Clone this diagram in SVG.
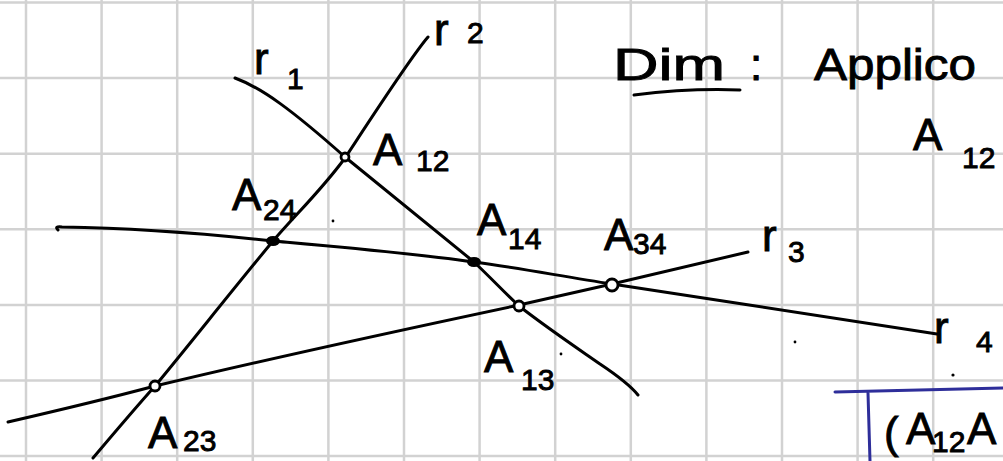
<svg xmlns="http://www.w3.org/2000/svg" width="1003" height="461" viewBox="0 0 1003 461">
<style>
.grid line{stroke:#d2d2d2;stroke-width:2.5}
.ln{fill:none;stroke:#000;stroke-width:3;stroke-linecap:round;stroke-linejoin:round}
.pt{fill:#fff;stroke:#000;stroke-width:2.8}
.ptf{fill:#000;stroke:#000;stroke-width:2}
.t{font-family:"Liberation Sans",Arial,sans-serif;font-size:44px;fill:#000;stroke:#000;stroke-width:0.9}
.s{font-size:30px}
.dot{fill:#000}
</style>
<rect width="1003" height="461" fill="#fff"/>
<g class="grid" id="grid">
<line x1="26" y1="0" x2="26" y2="461"/><line x1="101.6" y1="0" x2="101.6" y2="461"/><line x1="177.2" y1="0" x2="177.2" y2="461"/><line x1="252.8" y1="0" x2="252.8" y2="461"/><line x1="328.4" y1="0" x2="328.4" y2="461"/><line x1="404" y1="0" x2="404" y2="461"/><line x1="479.6" y1="0" x2="479.6" y2="461"/><line x1="555.2" y1="0" x2="555.2" y2="461"/><line x1="630.8" y1="0" x2="630.8" y2="461"/><line x1="706.4" y1="0" x2="706.4" y2="461"/><line x1="782" y1="0" x2="782" y2="461"/><line x1="857.6" y1="0" x2="857.6" y2="461"/><line x1="933.2" y1="0" x2="933.2" y2="461"/>
<line x1="0" y1="2.5" x2="1003" y2="2.5"/><line x1="0" y1="78" x2="1003" y2="78"/><line x1="0" y1="153.7" x2="1003" y2="153.7"/><line x1="0" y1="229.3" x2="1003" y2="229.3"/><line x1="0" y1="304.9" x2="1003" y2="304.9"/><line x1="0" y1="380.5" x2="1003" y2="380.5"/><line x1="0" y1="456" x2="1003" y2="456"/>
</g>
<g id="connectors">
<path id="r1" class="ln" d="M235,78 C262,88 292,110 345,157 L474,262 C490,277 505,293 519,306 C550,330 580,350 600,364 C615,374 630,385 638,395"/>
<path id="r2" class="ln" d="M428,37 C410,58 370,120 345,158 C320,192 295,215 273,241 C230,293 185,350 155,386 C130,414 110,438 93,458"/>
<path id="r3" class="ln" d="M8,422 C60,410 110,398 155,386 C280,356 420,326 519,305 L612,284 L748,252"/>
<path id="r4" class="ln" d="M58,230 Q54,226 62,227 C130,228 200,233 273,241 C340,247 410,253 474,262 C520,268 565,277 612,284 C720,300 830,318 937,334"/>
</g>
<g id="A12"><circle class="pt" cx="345" cy="157" r="4"/><text class="t" x="373" y="165">A<tspan class="s" x="416" y="171">12</tspan></text></g>
<g id="A24"><ellipse class="ptf" cx="273" cy="241" rx="6" ry="4"/><text class="t" x="232" y="210" font-size="42">A<tspan class="s" x="263" y="220" font-size="28">24</tspan></text></g>
<g id="A14"><ellipse class="ptf" cx="474" cy="262" rx="6" ry="4"/><text class="t" x="477" y="235" font-size="42">A<tspan class="s" x="508" y="249" font-size="28">14</tspan></text></g>
<g id="A34"><circle class="pt" cx="612" cy="285" r="6"/><text class="t" x="604" y="250" font-size="42">A<tspan class="s" x="633" y="254" font-size="28">34</tspan></text></g>
<g id="A13"><circle class="pt" cx="519" cy="306" r="5"/><text class="t" x="484" y="372">A<tspan class="s" x="521" y="390">13</tspan></text></g>
<g id="A23"><circle class="pt" cx="155" cy="386" r="5"/><text class="t" x="148" y="448">A<tspan class="s" x="183" y="451" font-size="34">23</tspan></text></g>
<g id="lr1"><text class="t" x="254" y="74" font-size="40">r<tspan class="s" x="287" y="89">1</tspan></text></g>
<g id="lr2"><text class="t" x="434" y="45">r<tspan class="s" x="467" y="43">2</tspan></text></g>
<g id="lr3"><text class="t" x="762" y="251" font-size="40">r<tspan class="s" x="788" y="262">3</tspan></text></g>
<g id="lr4"><text class="t" x="934" y="343" font-size="40">r<tspan class="s" x="976" y="352">4</tspan></text></g>
<g id="proof">
<text class="t" x="613" y="80" font-size="62" textLength="112" lengthAdjust="spacingAndGlyphs">Dim</text>
<path class="ln" d="M634,95 Q690,88 740,90"/>
<text class="t" x="750" y="80" font-size="40">:</text>
<text class="t" x="814" y="80" font-size="50" textLength="162" lengthAdjust="spacingAndGlyphs">Applico</text>
<text class="t" x="913" y="150" font-size="50">A<tspan class="s" x="962" y="168" font-size="32">12</tspan></text>
</g>
<g id="box">
<path d="M835,392 L1003,388 M868,393 L870,461" fill="none" stroke="#2e2e9a" stroke-width="3" stroke-linecap="round"/>
<text class="t" x="884" y="448" font-size="56">(</text>
<text class="t" x="906" y="444" font-size="38">A<tspan class="s" x="932" y="452" font-size="16">12</tspan></text>
<text class="t" x="967" y="444" font-size="34">A</text>
</g>
<g id="dots">
<circle class="dot" cx="333" cy="221" r="1.4"/><circle class="dot" cx="561" cy="354" r="1.4"/><circle class="dot" cx="795" cy="342" r="1.4"/><circle class="dot" cx="953" cy="375" r="1.6"/>
</g>
</svg>
